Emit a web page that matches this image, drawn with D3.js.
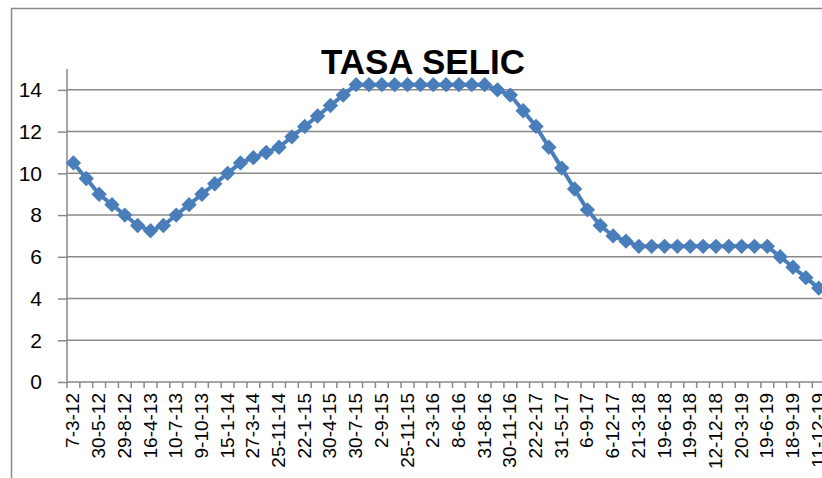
<!DOCTYPE html>
<html>
<head>
<meta charset="utf-8">
<script src="https://cdn.jsdelivr.net/npm/d3@7"></script>
<style>
  body { margin: 0; background: #fff; }
  text { font-family: 'Liberation Sans', Arial, sans-serif; }
</style>
</head>
<body>
<script>
// SELIC rate per Copom meeting (one point per category)
const selic = [
  10.5, 9.75, 9.0, 8.5, 8.0, 7.5, 7.25, 7.5, 8.0, 8.5,
  9.0, 9.5, 10.0, 10.5, 10.75, 11.0, 11.25, 11.75, 12.25, 12.75,
  13.25, 13.75, 14.25, 14.25, 14.25, 14.25, 14.25, 14.25, 14.25, 14.25,
  14.25, 14.25, 14.25, 14.0, 13.75, 13.0, 12.25, 11.25, 10.25, 9.25,
  8.25, 7.5, 7.0, 6.75, 6.5, 6.5, 6.5, 6.5, 6.5, 6.5,
  6.5, 6.5, 6.5, 6.5, 6.5, 6.0, 5.5, 5.0, 4.5
]
// only every second category carries a label on the axis
const dateLabels = [
  '7-3-12', '30-5-12', '29-8-12', '16-4-13', '10-7-13', '9-10-13',
  '15-1-14', '27-3-14', '25-11-14', '22-1-15', '30-4-15', '30-7-15',
  '2-9-15', '25-11-15', '2-3-16', '8-6-16', '31-8-16', '30-11-16',
  '22-2-17', '31-5-17', '6-9-17', '6-12-17', '21-3-18', '19-6-18',
  '19-9-18', '12-12-18', '20-3-19', '19-6-19', '18-9-19', '11-12-19'
]
const yTicks = [0, 2, 4, 6, 8, 10, 12, 14]

const width = 822,
  height = 478,
  margin = { top: 69, left: 67, bottom: 96 }
const step = 12.85
const blue = '#4a7ebb',
  grey = '#898989'

const svg = d3.select('body').append('svg')
  .attr('width', width)
  .attr('height', height)

// chart border
svg.append('rect')
  .attr('x', 11.5).attr('y', 8.5)
  .attr('width', 900).attr('height', 520)
  .attr('fill', 'none').attr('stroke', grey).attr('stroke-width', 1.5)

const xScale = d3.scaleBand()
  .domain(d3.range(selic.length))
  .range([margin.left, margin.left + step * selic.length])
  .padding(0)

const yScale = d3.scaleLinear()
  .domain([0, 15])
  .range([height - margin.bottom, margin.top])

// gridlines
svg.append('g')
  .selectAll('line')
  .data(yTicks.filter((d) => d > 0))
  .join('line')
  .attr('x1', margin.left).attr('x2', width)
  .attr('y1', (d) => yScale(d)).attr('y2', (d) => yScale(d))
  .attr('stroke', grey).attr('stroke-width', 1.5)

// y axis
const yAxis = svg.append('g')
  .attr('transform', `translate(${margin.left},0)`)
  .call(d3.axisLeft(yScale).tickValues(yTicks).tickSize(9).tickPadding(16))
yAxis.select('.domain').attr('stroke', grey).attr('stroke-width', 1.5)
  .attr('d', `M0,${yScale(15)}V${yScale(0)}`)
yAxis.selectAll('.tick line').attr('stroke', grey).attr('stroke-width', 1.5)
yAxis.selectAll('.tick text')
  .style('font-size', '21px').attr('fill', '#000')

// x axis: tick marks sit between categories
const xAxisG = svg.append('g')
  .attr('transform', `translate(0,${yScale(0)})`)
xAxisG.append('line')
  .attr('x1', margin.left).attr('x2', width)
  .attr('stroke', grey).attr('stroke-width', 1.5)
xAxisG.selectAll('.tk')
  .data(d3.range(selic.length + 1))
  .join('line')
  .attr('class', 'tk')
  .attr('x1', (i) => margin.left + i * xScale.step())
  .attr('x2', (i) => margin.left + i * xScale.step())
  .attr('y1', 0).attr('y2', 6)
  .attr('stroke', grey).attr('stroke-width', 1.5)
xAxisG.selectAll('.lbl')
  .data(dateLabels)
  .join('text')
  .attr('class', 'lbl')
  .attr('transform', (d, i) =>
    `translate(${xScale(i * 2) + xScale.bandwidth() / 2 + 6},11) rotate(-90)`)
  .attr('text-anchor', 'end')
  .style('font-size', '19px')
  .text((d) => d)

// series line + diamond markers
const line = d3.line()
  .x((d, i) => xScale(i) + xScale.bandwidth() / 2)
  .y((d) => yScale(d))

svg.append('path')
  .datum(selic)
  .attr('d', line)
  .attr('fill', 'none')
  .attr('stroke', blue)
  .attr('stroke-width', 4)
  .attr('stroke-linejoin', 'round')

svg.append('g')
  .selectAll('path')
  .data(selic)
  .join('path')
  .attr('d', d3.symbol(d3.symbolSquare, 118))
  .attr('transform', (d, i) =>
    `translate(${xScale(i) + xScale.bandwidth() / 2},${yScale(d)}) rotate(45)`)
  .attr('fill', blue)

// title
svg.append('text')
  .attr('x', 423).attr('y', 74)
  .attr('text-anchor', 'middle')
  .style('font-size', '35px')
  .style('font-weight', 'bold')
  .text('TASA SELIC')
</script>
</body>
</html>
